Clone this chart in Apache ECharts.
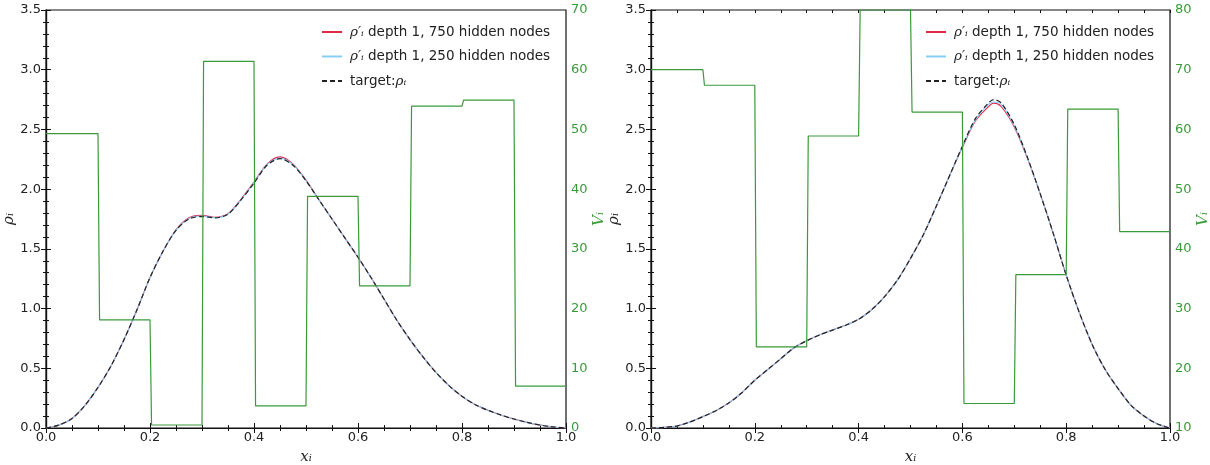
<!DOCTYPE html>
<html><head><meta charset="utf-8">
<script src="https://cdn.jsdelivr.net/npm/echarts@6/dist/echarts.min.js"></script>
<style>html,body{margin:0;padding:0;background:#fff}#c{width:1210px;height:465px}</style>
</head><body><div id="c"></div>
<script>
// ---------- data ----------
const xL = [0,0.025,0.05,0.075,0.1,0.125,0.15,0.175,0.2,0.225,0.25,0.275,0.3,0.325,0.35,0.375,0.4,0.425,0.45,0.475,0.5,0.525,0.55,0.575,0.6,0.625,0.65,0.675,0.7,0.725,0.75,0.775,0.8,0.825,0.85,0.875,0.9,0.925,0.95,0.975,1.0];
const targetL = [0,0.025,0.08,0.19,0.34,0.52,0.74,0.99,1.26,1.48,1.655,1.75,1.77,1.76,1.79,1.91,2.05,2.20,2.255,2.20,2.07,1.91,1.75,1.59,1.43,1.26,1.08,0.90,0.74,0.595,0.465,0.355,0.265,0.197,0.148,0.108,0.075,0.047,0.025,0.009,0];
const nn750L = [0,0.025,0.08,0.19,0.34,0.52,0.74,0.99,1.26,1.48,1.66,1.76,1.78,1.765,1.795,1.915,2.06,2.21,2.27,2.21,2.075,1.91,1.75,1.59,1.43,1.26,1.08,0.90,0.74,0.595,0.465,0.355,0.265,0.197,0.148,0.108,0.075,0.047,0.025,0.009,0];
const nn250L = [0,0.025,0.08,0.19,0.34,0.52,0.74,0.99,1.26,1.48,1.655,1.755,1.775,1.76,1.79,1.91,2.055,2.205,2.26,2.205,2.07,1.91,1.75,1.59,1.43,1.26,1.08,0.90,0.74,0.595,0.465,0.355,0.265,0.197,0.148,0.108,0.075,0.047,0.025,0.009,0];

const xR = [0,0.025,0.05,0.075,0.1,0.125,0.15,0.175,0.2,0.225,0.25,0.275,0.3,0.325,0.35,0.375,0.4,0.425,0.45,0.475,0.5,0.525,0.55,0.575,0.6,0.625,0.65,0.66,0.675,0.7,0.725,0.75,0.775,0.8,0.825,0.85,0.875,0.9,0.925,0.95,0.975,1.0];
const targetR = [0,0.005,0.017,0.05,0.095,0.145,0.21,0.295,0.40,0.49,0.58,0.67,0.73,0.78,0.82,0.86,0.91,0.99,1.10,1.24,1.42,1.62,1.86,2.11,2.36,2.59,2.72,2.75,2.72,2.54,2.27,1.96,1.63,1.28,0.97,0.70,0.49,0.33,0.19,0.10,0.035,0];
const nn750R = [0,0.005,0.017,0.05,0.095,0.145,0.21,0.295,0.40,0.49,0.58,0.67,0.73,0.78,0.82,0.86,0.91,0.99,1.10,1.24,1.42,1.62,1.86,2.11,2.35,2.57,2.69,2.72,2.69,2.52,2.26,1.96,1.63,1.28,0.97,0.70,0.49,0.33,0.19,0.10,0.035,0];
const nn250R = [0,0.005,0.017,0.05,0.095,0.145,0.21,0.295,0.40,0.49,0.58,0.67,0.73,0.78,0.82,0.86,0.91,0.99,1.10,1.24,1.42,1.62,1.86,2.11,2.355,2.58,2.71,2.73,2.71,2.53,2.265,1.96,1.63,1.28,0.97,0.70,0.49,0.33,0.19,0.10,0.035,0];

const vBounds = [0,0.1,0.2,0.3,0.4,0.5,0.6,0.7,0.8,0.9,1.0];
const vL = [49.3,18.1,0.5,61.4,3.7,38.8,23.8,53.9,54.9,7.0];
const vR = [70.0,67.4,23.6,58.9,80.0,62.9,14.1,35.7,63.4,42.9];

const xTicks = ['0.0','0.2','0.4','0.6','0.8','1.0'];
const names = ['n750','n250','target'];

// ---------- helpers ----------
const zip = (xs, ys) => xs.map((x, i) => [x, ys[i]]);
function steps(bounds, vals) {
  const pts = [];
  vals.forEach((v, i) => {
    pts.push([bounds[i] + (i > 0 ? 0.003 : 0), v]);
    pts.push([bounds[i + 1], v]);
  });
  return pts;
}

const GREEN = '#3a9a3a';
const RED = '#e0284a';
const BLUE = '#87cefa';
const AX = '#111';
const lblFont = {fontFamily: 'DejaVu Sans', fontSize: 13, color: '#222'};
const mathName = {fontFamily: 'DejaVu Serif', fontStyle: 'italic', fontSize: 15, color: '#222'};
const noSplit = {show: false};

function minorAxis(gi, pos, min, max, interval) {
  return {gridIndex: gi, type: 'value', min: min, max: max, interval: interval, position: pos,
    axisLine: {show: false}, axisTick: {show: true, inside: true, length: 3, lineStyle: {color: AX}},
    axisLabel: {show: false}, splitLine: noSplit};
}
function xAxes(gi) {
  return [
    {gridIndex: gi, type: 'value', min: 0, max: 1, interval: 0.2, position: 'bottom',
     name: 'xᵢ', nameLocation: 'middle', nameGap: 22, nameTextStyle: mathName,
     axisLine: {lineStyle: {color: AX, width: 1.2}},
     axisTick: {inside: true, length: 5, lineStyle: {color: AX}},
     axisLabel: Object.assign({margin: 3, formatter: v => xTicks[Math.round(v / 0.2)]}, lblFont),
     splitLine: noSplit},
    {gridIndex: gi, type: 'value', min: 0, max: 1, interval: 0.2, position: 'top',
     axisLine: {lineStyle: {color: AX, width: 1.2}},
     axisTick: {inside: true, length: 5, lineStyle: {color: AX}},
     axisLabel: {show: false}, splitLine: noSplit},
    minorAxis(gi, 'bottom', 0, 1, 0.05),
    minorAxis(gi, 'top', 0, 1, 0.05)
  ];
}
function yAxes(gi, vmin, vmax, gapL, gapR) {
  return [
    {gridIndex: gi, type: 'value', min: 0, max: 3.5, interval: 0.5, position: 'left',
     name: 'ρᵢ', nameLocation: 'middle', nameRotate: 90, nameGap: gapL, nameTextStyle: mathName,
     axisLine: {show: true, lineStyle: {color: AX, width: 1.2}},
     axisTick: {show: true, inside: true, length: 5, lineStyle: {color: AX}},
     axisLabel: Object.assign({margin: 5, formatter: v => v.toFixed(1)}, lblFont),
     splitLine: noSplit},
    {gridIndex: gi, type: 'value', min: vmin, max: vmax, interval: 10, position: 'right',
     name: 'Vᵢ', nameLocation: 'middle', nameRotate: 90, nameGap: gapR,
     nameTextStyle: Object.assign({}, mathName, {color: GREEN}),
     axisLine: {show: true, lineStyle: {color: AX, width: 1.2}},
     axisTick: {show: true, inside: true, length: 5, lineStyle: {color: AX}},
     axisLabel: Object.assign({}, lblFont, {margin: 5, color: GREEN}),
     splitLine: noSplit},
    minorAxis(gi, 'left', 0, 3.5, 0.1),
    minorAxis(gi, 'right', vmin, vmax, 2)
  ];
}
function curves(gi, xs, a750, a250, tgt, vStep) {
  const xi = gi * 4, yi = gi * 4;
  const common = {showSymbol: false, symbol: 'none', smooth: 0.3, xAxisIndex: xi, yAxisIndex: yi};
  return [
    Object.assign({type: 'line', name: 'n750', data: zip(xs, a750),
     lineStyle: {color: RED, width: 1.1}, itemStyle: {color: RED}, z: 3}, common),
    Object.assign({type: 'line', name: 'n250', data: zip(xs, a250),
     lineStyle: {color: BLUE, width: 1.1}, itemStyle: {color: BLUE}, z: 4}, common),
    Object.assign({type: 'line', name: 'target', data: zip(xs, tgt),
     lineStyle: {color: '#222', width: 1.2, type: [5, 3]}, itemStyle: {color: '#222'}, z: 5}, common),
    {type: 'line', name: 'V' + gi, xAxisIndex: xi, yAxisIndex: yi + 1, data: vStep,
     showSymbol: false, symbol: 'none', lineStyle: {color: GREEN, width: 1.2}, itemStyle: {color: GREEN}, z: 6}
  ];
}
const legendLabel = {
  n750: '{m|ρ′ᵢ} depth 1, 750 hidden nodes',
  n250: '{m|ρ′ᵢ} depth 1, 250 hidden nodes',
  target: 'target:{m|ρᵢ}'
};
function legend(left) {
  return {
    data: names, left: left, top: 20, orient: 'vertical', itemWidth: 20, itemHeight: 14, itemGap: 10.5,
    selectedMode: false,
    itemStyle: {opacity: 0},
    formatter: n => legendLabel[n],
    textStyle: {fontFamily: 'DejaVu Sans', fontSize: 13.5, color: '#222', padding: [0, 0, 0, 3],
      rich: {m: {fontFamily: 'DejaVu Serif', fontStyle: 'italic', fontSize: 13.5, color: '#222'}}}
  };
}

const option = {
  animation: false,
  backgroundColor: '#fff',
  grid: [
    {left: 46, top: 10, width: 520, height: 418, show: true, borderColor: AX, borderWidth: 1.2, outerBoundsMode: 'none', containLabel: false},
    {left: 651, top: 10, width: 519, height: 418, show: true, borderColor: AX, borderWidth: 1.2, outerBoundsMode: 'none', containLabel: false}
  ],
  legend: [legend(316), legend(920)],
  xAxis: xAxes(0).concat(xAxes(1)),
  yAxis: yAxes(0, 0, 70, 25, 24).concat(yAxes(1, 10, 80, 27, 24)),
  series: curves(0, xL, nn750L, nn250L, targetL, steps(vBounds, vL))
    .concat(curves(1, xR, nn750R, nn250R, targetR, steps(vBounds, vR)))
};
echarts.init(document.getElementById('c'), null, {renderer: 'canvas'}).setOption(option);
</script></body></html>
